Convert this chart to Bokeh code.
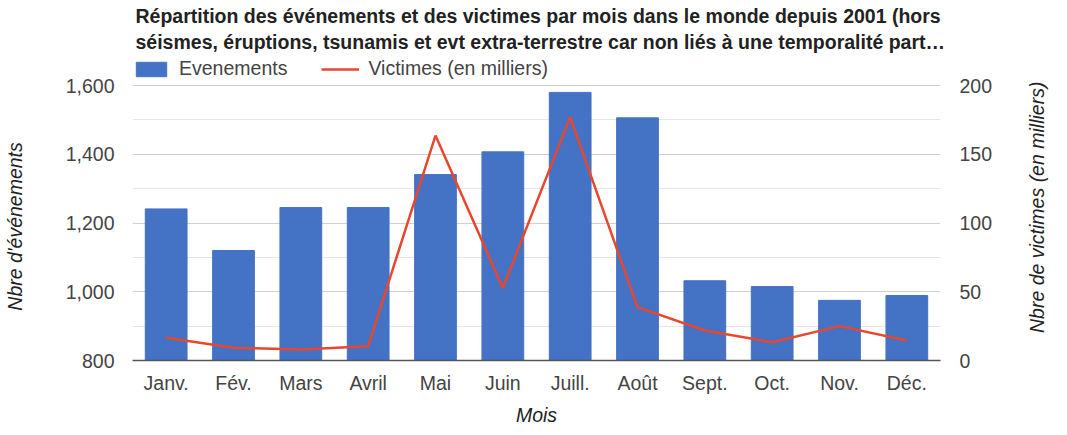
import math
from bokeh.plotting import figure
from bokeh.models import (Range1d, LinearAxis, FixedTicker, NumeralTickFormatter,
                          Legend, LegendItem, FactorRange, ColumnDataSource, Title)
from bokeh.embed import file_html
from bokeh.resources import INLINE

months = ["Janv.", "Fév.", "Mars", "Avril", "Mai", "Juin", "Juill.", "Août",
          "Sept.", "Oct.", "Nov.", "Déc."]
evenements = [1241, 1120, 1245, 1245, 1341, 1407, 1580, 1506, 1032, 1015, 975, 989]
victimes = [16.5, 9.2, 8.0, 10.4, 163.6, 52.8, 177.0, 38.8, 21.8, 13.3, 25.0, 14.5]
left_ticks = [800, 1000, 1200, 1400, 1600]
left_minor = [900, 1100, 1300, 1500]
right_ticks = [0, 50, 100, 150, 200]
left_bounds = (800, 1600)
right_bounds = (0, 200)

title_line1 = "Répartition des événements et des victimes par mois dans le monde depuis 2001 (hors"
title_line2 = "séismes, éruptions, tsunamis et evt extra-terrestre car non liés à une temporalité part…"
left_title = "Nbre d'événements"
right_title = "Nbre de victimes (en milliers)"
x_title = "Mois"

FONT = "Liberation Sans"
FS = "19.5px"
GREY = "#444444"
DARK = "#222222"

# geometry: the data area is 275 px tall; the frame is extended upwards so the
# legend can sit inside it, just above the 1,600 gridline
DATA_H = 275
FRAME_H = 306
left_top = left_bounds[0] + (left_bounds[1] - left_bounds[0]) * FRAME_H / DATA_H
right_top = right_bounds[0] + (right_bounds[1] - right_bounds[0]) * FRAME_H / DATA_H
v_per_px = (right_bounds[1] - right_bounds[0]) / DATA_H

src = ColumnDataSource(dict(m=months, ev=evenements, vic=victimes))

p = figure(x_range=FactorRange(*months), y_range=Range1d(left_bounds[0], left_top),
           frame_width=808, frame_height=FRAME_H, output_backend="svg", toolbar_location=None,
           min_border_left=130, min_border_right=112, min_border_top=54,
           min_border_bottom=63, background_fill_color="white",
           border_fill_color="white", outline_line_color=None, title=None)

p.extra_y_ranges = {"v": Range1d(right_bounds[0], right_top)}

bars = p.vbar(x="m", top="ev", bottom=left_bounds[0], width=0.62, source=src,
              fill_color="#4472C4", line_color="#4472C4")
line = p.line(x="m", y="vic", y_range_name="v", source=src,
              line_color="#E8472E", line_width=2.5)

# left axis
ya = p.yaxis[0]
ya.bounds = left_bounds
ya.ticker = FixedTicker(ticks=left_ticks, minor_ticks=left_minor)
ya.formatter = NumeralTickFormatter(format="0,0")
ya.axis_line_color = None
ya.major_tick_line_color = None
ya.minor_tick_line_color = None
ya.major_tick_out = 0
ya.major_tick_in = 0
ya.minor_tick_out = 0
ya.major_label_standoff = 18
ya.major_label_text_font = FONT
ya.major_label_text_font_size = FS
ya.major_label_text_color = GREY
ya.axis_label = left_title + "\u00a0" * 7
ya.axis_label_text_font = FONT
ya.axis_label_text_font_size = FS
ya.axis_label_text_font_style = "italic"
ya.axis_label_text_color = DARK
ya.axis_label_standoff = 37

# right axis (tick labels)
ra = LinearAxis(y_range_name="v", ticker=FixedTicker(ticks=right_ticks), bounds=right_bounds)
ra.axis_line_color = None
ra.major_tick_line_color = None
ra.minor_tick_line_color = None
ra.major_tick_out = 0
ra.major_tick_in = 0
ra.minor_tick_out = 0
ra.major_label_standoff = 19
ra.major_label_text_font = FONT
ra.major_label_text_font_size = FS
ra.major_label_text_color = GREY
p.add_layout(ra, "right")

# right axis title, reading bottom-to-top: one rotated label that starts
# below the middle of the data area
title_start = right_bounds[0] + (DATA_H / 2 + 15 - 250 / 2) * v_per_px
rt = LinearAxis(y_range_name="v", ticker=FixedTicker(ticks=[title_start]),
                major_label_overrides={title_start: right_title})
rt.axis_line_color = None
rt.major_tick_line_color = None
rt.minor_tick_line_color = None
rt.major_tick_out = 0
rt.major_tick_in = 0
rt.minor_tick_out = 0
rt.major_label_orientation = math.pi / 2
rt.major_label_standoff = 41
rt.major_label_text_font = FONT
rt.major_label_text_font_size = FS
rt.major_label_text_font_style = "italic"
rt.major_label_text_color = DARK
p.add_layout(rt, "right")

# x axis
xa = p.xaxis[0]
xa.axis_line_color = "#555555"
xa.axis_line_width = 1.5
xa.major_tick_line_color = None
xa.major_tick_out = 0
xa.major_tick_in = 0
xa.major_label_standoff = 11
xa.major_label_text_font = FONT
xa.major_label_text_font_size = FS
xa.major_label_text_color = GREY
xa.axis_label = x_title
xa.axis_label_text_font = FONT
xa.axis_label_text_font_size = FS
xa.axis_label_text_font_style = "italic"
xa.axis_label_text_color = DARK
xa.axis_label_standoff = 7

# grids
p.xgrid.grid_line_color = None
p.ygrid.grid_line_color = "#d0d0d0"
p.ygrid.minor_grid_line_color = "#e6e6e6"

# legend inside the (extended) frame, above the data area
legend = Legend(items=[LegendItem(label="Evenements", renderers=[bars]),
                       LegendItem(label="Victimes (en milliers)", renderers=[line])],
                orientation="horizontal", location=(0, DATA_H + 5),
                glyph_width=38, glyph_height=18, label_standoff=9, spacing=34,
                padding=0, margin=0, border_line_color=None,
                background_fill_alpha=0, label_text_font=FONT,
                label_text_font_size=FS, label_text_color=GREY,
                label_height=18)
p.add_layout(legend)

for txt, so in ((title_line2, 3), (title_line1, 1)):
    t = Title(text=txt, text_font=FONT, text_font_size=FS, text_font_style="bold",
              text_color=DARK, align="left", offset=3, standoff=so)
    p.add_layout(t, "above")

open("out.html", "w").write(file_html(p, INLINE))
